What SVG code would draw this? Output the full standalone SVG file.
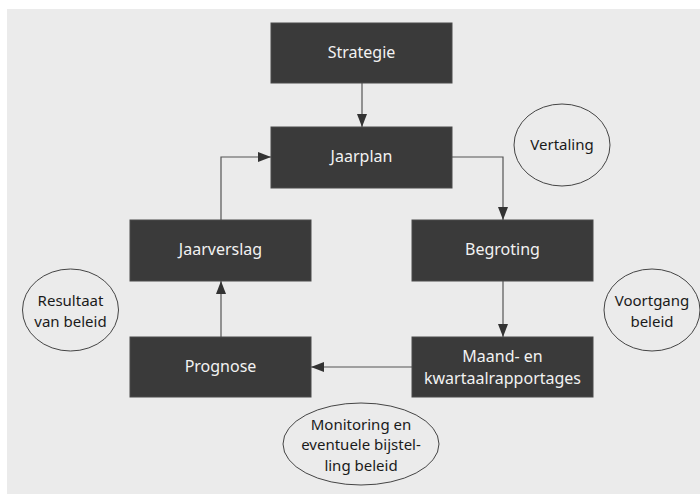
<svg xmlns="http://www.w3.org/2000/svg" width="700" height="494" viewBox="0 0 700 494">
<style>
.box{fill:#3a3a3a;stroke:#4a4a4a;stroke-width:1}
.bt{fill:#f2f2f2;font-family:"Noto Sans","Liberation Sans",sans-serif;font-size:16px;text-anchor:middle}
.ct{fill:#1a1a1a;font-family:"Noto Sans","Liberation Sans",sans-serif;font-size:15px;text-anchor:middle}
.el{fill:none;stroke:#444;stroke-width:1}
.ln{fill:none;stroke:#555;stroke-width:1.2}
</style>
<defs>
<marker id="ah" markerUnits="userSpaceOnUse" markerWidth="14" markerHeight="11" refX="13" refY="5" orient="auto">
<path d="M0,0 L13,5 L0,10 z" fill="#333"/>
</marker>
</defs>
<rect x="0" y="0" width="700" height="494" fill="#ffffff"/>
<rect x="7" y="9" width="693" height="485" fill="#ebebeb"/>
<g id="connectors">
<path class="ln" d="M362,83 V127" marker-end="url(#ah)"/>
<path class="ln" d="M452,157 H503 V220" marker-end="url(#ah)"/>
<path class="ln" d="M503,281 V337" marker-end="url(#ah)"/>
<path class="ln" d="M412,367 H311" marker-end="url(#ah)"/>
<path class="ln" d="M221,337 V281" marker-end="url(#ah)"/>
<path class="ln" d="M221,220 V157 H271" marker-end="url(#ah)"/>
</g>
<g id="strategie"><rect class="box" x="271" y="23" width="181" height="60"/><text class="bt" x="361.5" y="58">Strategie</text></g>
<g id="jaarplan"><rect class="box" x="271" y="127" width="181" height="61"/><text class="bt" x="361.5" y="162">Jaarplan</text></g>
<g id="jaarverslag"><rect class="box" x="130" y="220" width="181" height="61"/><text class="bt" x="220.5" y="255">Jaarverslag</text></g>
<g id="begroting"><rect class="box" x="412" y="220" width="181" height="61"/><text class="bt" x="502.5" y="255">Begroting</text></g>
<g id="prognose"><rect class="box" x="130" y="337" width="181" height="60"/><text class="bt" x="220.5" y="372">Prognose</text></g>
<g id="maand"><rect class="box" x="412" y="337" width="181" height="60"/><text class="bt" x="502.5" y="362">Maand- en</text><text class="bt" x="502.5" y="384">kwartaalrapportages</text></g>
<g id="vertaling"><ellipse class="el" cx="562" cy="145" rx="48" ry="41"/><text class="ct" x="562" y="150">Vertaling</text></g>
<g id="resultaat"><ellipse class="el" cx="70.5" cy="310" rx="48" ry="41"/><text class="ct" x="70.5" y="306">Resultaat</text><text class="ct" x="70.5" y="326.5">van beleid</text></g>
<g id="voortgang"><ellipse class="el" cx="652" cy="310" rx="48" ry="41"/><text class="ct" x="652" y="306">Voortgang</text><text class="ct" x="652" y="326.5">beleid</text></g>
<g id="monitoring"><ellipse class="el" cx="361" cy="444" rx="78" ry="41"/><text class="ct" x="361" y="429.5">Monitoring en</text><text class="ct" x="361" y="450">eventuele bijstel-</text><text class="ct" x="361" y="470.5">ling beleid</text></g>
</svg>
